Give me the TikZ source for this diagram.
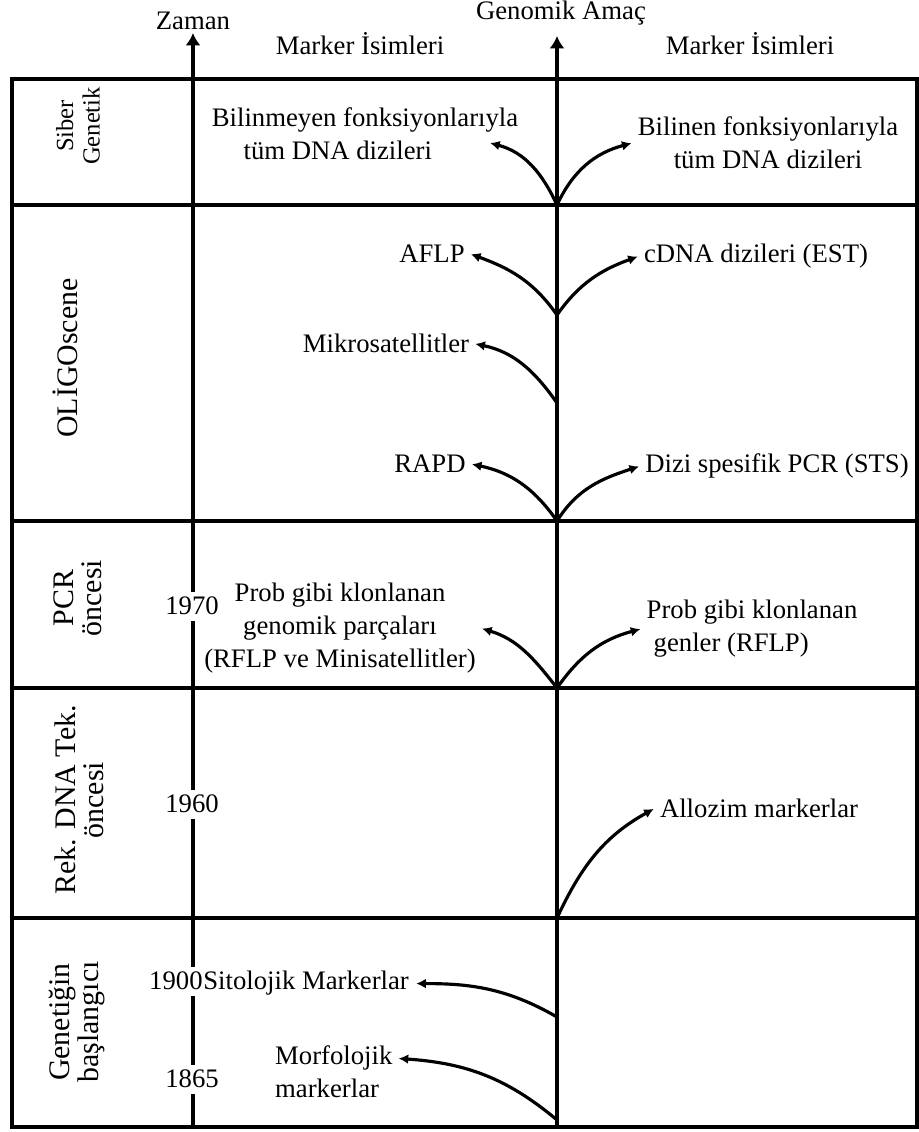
\documentclass[tikz,border=0pt]{standalone}
\usepackage{fontspec}
\setmainfont{Liberation Serif}
\usetikzlibrary{arrows.meta}

\begin{document}
\begin{tikzpicture}[x=0.02cm,y=0.02cm,
    rule/.style={line width=2.6pt},
    axis/.style={line width=2.4pt,-{Latex[length=7pt,width=8.5pt]}},
    arr/.style={line width=1.8pt,-{Latex[length=5.5pt,width=5.5pt]}},
    txt/.style={font=\fontsize{15.2}{18.8}\selectfont,align=center},
    era/.style={font=\fontsize{17}{16}\selectfont,rotate=90,align=center},
    year/.style={txt,fill=white,inner xsep=1pt,inner ysep=3pt}]

    \useasboundingbox (0,0) rectangle (919,1132);

    % frame and rows
    \draw[rule] (12,5) rectangle (917,1053);
    \foreach \y in {927,611,444,214}
      \draw[rule] (12,\y) -- (917,\y);

    % the two axes
    \coordinate (z0) at (193,5);
    \coordinate (z1) at (193,1099);
    \coordinate (g0) at (557,5);
    \coordinate (g1) at (557,1096);
    \draw[axis] (z0) -- (z1);
    \draw[axis] (g0) -- (g1);

    % branching points on the axis
    \coordinate (f1) at (557,927);
    \coordinate (f2) at (557,817);
    \coordinate (f3) at (557,729);
    \coordinate (f4) at (557,611);
    \coordinate (f5) at (557,444);
    \coordinate (f6) at (557,214);
    \coordinate (f7) at (557,115);
    \coordinate (f8) at (557,12);

    % the texts
    \node[txt,anchor=base] (zaman) at (193,1102) {Zaman};
    \node[txt,anchor=base] (amac) at (561,1112) {Genomik Amaç};
    \node[txt,anchor=base] (mark1) at (360,1077) {Marker İsimleri};
    \node[txt,anchor=base] (mark2) at (750,1077) {Marker İsimleri};

    \node[era,font=\fontsize{14}{15}\selectfont] (siber) at (78,1006) {Siber\\Genetik};
    \node[era] (oligo) at (65,774) {OLİGOscene};
    \node[era] (pcr) at (78,534) {PCR\\öncesi};
    \node[era] (rek) at (79,332) {Rek. DNA Tek.\\öncesi};
    \node[era] (gen) at (77,110) {Genetiğin\\başlangıcı};

    \node[txt,anchor=base] (bilinmeyen) at (365,972)
      {Bilinmeyen fonksiyonlarıyla\\tüm DNA dizileri\hspace*{31pt}};
    \coordinate (t1) at (490,989);
    \node[txt,anchor=base] (bilinen) at (768,963)
      {Bilinen fonksiyonlarıyla\\tüm DNA dizileri};

    \node[txt,anchor=base] (aflp) at (432,869) {AFLP};
    \node[txt,anchor=base] (cdna) at (756,869) {cDNA dizileri (EST)};
    \node[txt,anchor=base] (mikro) at (386,779) {Mikrosatellitler};
    \node[txt,anchor=base] (rapd) at (430,659) {RAPD};
    \node[txt,anchor=base] (dizi) at (777,659) {Dizi spesifik PCR (STS)};

    \node[year,anchor=base] (y1970) at (192,517) {1970};
    \node[txt,anchor=base] (genomik) at (340,464)
      {Prob gibi klonlanan\\genomik parçaları\\(RFLP ve Minisatellitler)};
    \node[txt,anchor=base,align=left] (genler) at (752,480)
      {Prob gibi klonlanan\\\hspace*{4pt}genler (RFLP)};

    \node[year,anchor=base] (y1960) at (192,319) {1960};
    \node[txt,anchor=base] (allozim) at (759,314) {Allozim markerlar};

    \node[year,anchor=base east,inner xsep=0pt] (y1900) at (203,142) {1900};
    \node[txt,anchor=base west,inner xsep=0pt] (sito) at (203,142)
      {Sitolojik Markerlar};
    \node[txt,anchor=base west] (morf) at (269,67) {Morfolojik};
    \node[txt,anchor=base west] (morf2) at (269,34) {markerlar};
    \node[year,anchor=base] (y1865) at (192,44) {1865};

    % the branches
    \draw[arr] (f1) to[out=115,in=-15] (t1);
    \draw[arr] (f1) to[out=65,in=195] (bilinen.west);
    \draw[arr] (f2) to[out=125,in=-20] (aflp.east);
    \draw[arr] (f2) to[out=55,in=200] (cdna.west);
    \draw[arr] (f3) to[out=125,in=-12] (mikro.east);
    \draw[arr] (f4) to[out=125,in=-12] (rapd.east);
    \draw[arr] (f4) to[out=58,in=198] (dizi.west);
    \draw[arr] (f5) to[out=128,in=-17] (genomik.east);
    \draw[arr] (f5) to[out=55,in=195] (genler.west);
    \draw[arr] (f6) to[out=65,in=209] (allozim.west);
    \draw[arr,shorten >=4pt] (f7) to[out=150,in=0] (sito.east);
    \draw[arr] (f8) to[out=140,in=-4] (morf.east);
\end{tikzpicture}
\end{document}
